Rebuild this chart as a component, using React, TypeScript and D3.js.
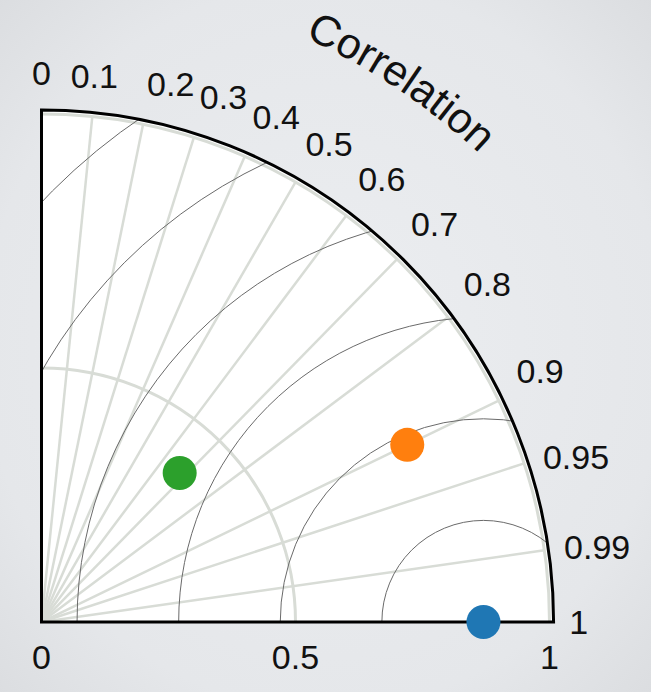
import React from 'react';
import * as d3 from 'd3';

// taylor diagram values
const corrTicks = [0, 0.1, 0.2, 0.3, 0.4, 0.5, 0.6, 0.7, 0.8, 0.9, 0.95, 0.99, 1];
const corrLabels = ['0', '0.1', '0.2', '0.3', '0.4', '0.5', '0.6', '0.7', '0.8', '0.9', '0.95', '0.99', '1'];
const stdTicks = [0, 0.5, 1];
const stdLabels = ['0', '0.5', '1'];
const stdGrid = [0.5, 1];
const rmsLevels = [0.2, 0.4, 0.6, 0.8, 1.0, 1.2];

const seriesNames = ['Reference', 'Model A', 'Model B'];
const seriesStd = [0.87, 0.8, 0.4];
const seriesCorr = [1, 0.9, 0.68];
const seriesColors = ['#1f77b4', '#ff7f0e', '#2ca02c'];

const W = 651;
const H = 692;
const ox = 41.5;
const oy = 622;
const stdMax = 1.008;

const App = () => {
  const r = d3.scaleLinear().domain([0, 1]).range([0, 508]);
  const rf = r(stdMax);
  const refStd = seriesStd[0];

  const polar = (s: number, c: number) => {
    const a = Math.acos(c);
    return [r(s) * Math.cos(a), -r(s) * Math.sin(a)];
  };

  const quarter = (rad: number) => {
    const p = d3.path();
    p.moveTo(0, -rad);
    p.arc(0, 0, rad, -Math.PI / 2, 0);
    return p.toString();
  };

  const frame = () => {
    const p = d3.path();
    p.moveTo(0, 0);
    p.lineTo(0, -rf);
    p.arc(0, 0, rf, -Math.PI / 2, 0);
    p.closePath();
    return p.toString();
  };

  const rmsArc = (lvl: number) => {
    const p = d3.path();
    const cx = r(refStd);
    const rr = r(lvl);
    p.moveTo(cx - rr, 0);
    p.arc(cx, 0, rr, Math.PI, 2 * Math.PI);
    return p.toString();
  };

  const titleR = 641;
  const titlePath = `M0,${-titleR} A${titleR},${titleR} 0 0 1 ${titleR},0`;

  const fontFam = '"Liberation Sans", Arial, Helvetica, sans-serif';

  return (
    <svg width={W} height={H} style={{ position: 'absolute', left: 0, top: 0 }}>
      <defs>
        <radialGradient id="bg" cx="50%" cy="50%" r="75%">
          <stop offset="0%" stopColor="#eceef1" />
          <stop offset="70%" stopColor="#e5e7ea" />
          <stop offset="100%" stopColor="#d9dbde" />
        </radialGradient>
        <clipPath id="clipIn">
          <path d={frame()} />
        </clipPath>
        <path id="titleArc" d={titlePath} />
      </defs>
      <rect width={W} height={H} fill="url(#bg)" />
      <g transform={`translate(${ox},${oy})`}>
        <path d={frame()} fill="#fff" />

        {/* correlation rays */}
        {corrTicks.filter(c => c > 0 && c < 1).map(c => {
          const [x, y] = polar(1, c);
          return <line key={'c' + c} x1={0} y1={0} x2={x} y2={y} stroke="#d8dcd6" strokeWidth={2.5} />;
        })}

        {/* std circles */}
        {stdGrid.map(s => (
          <path key={'s' + s} d={quarter(r(s))} fill="none" stroke="#d8dcd6" strokeWidth={3} />
        ))}

        {/* centred rms contours */}
        <g clipPath="url(#clipIn)">
          {rmsLevels.map(l => (
            <path key={'r' + l} d={rmsArc(l)} fill="none" stroke="#6a6a6a" strokeWidth={1} />
          ))}
        </g>

        <path d={frame()} fill="none" stroke="#000" strokeWidth={3} strokeLinejoin="miter" />

        {/* points */}
        {seriesNames.map((n, i) => {
          const [x, y] = polar(seriesStd[i], seriesCorr[i]);
          return <circle key={n} cx={x} cy={y} r={17} fill={seriesColors[i]} />;
        })}

        {/* correlation tick labels */}
        {corrTicks.map((c, i) => {
          const [x, y] = polar(stdMax + 0.031, c);
          const mid = c < 0.15;
          return (
            <text key={'cl' + c} x={x} y={y + (c > 0.9 ? 0 : -21)} dy="0.35em"
              textAnchor={mid ? 'middle' : 'start'} fontSize={34} fontFamily={fontFam} fill="#111">
              {corrLabels[i]}
            </text>
          );
        })}

        {/* std axis labels */}
        {stdTicks.map((s, i) => (
          <text key={'sl' + s} x={r(s)} y={35} dy="0.35em" textAnchor="middle"
            fontSize={34} fontFamily={fontFam} fill="#111">
            {stdLabels[i]}
          </text>
        ))}

        <text fontSize={43} fontFamily={fontFam} fill="#111">
          <textPath href="#titleArc" startOffset="37.4%" textAnchor="middle">Correlation</textPath>
        </text>
      </g>
    </svg>
  );
};

export default App;
